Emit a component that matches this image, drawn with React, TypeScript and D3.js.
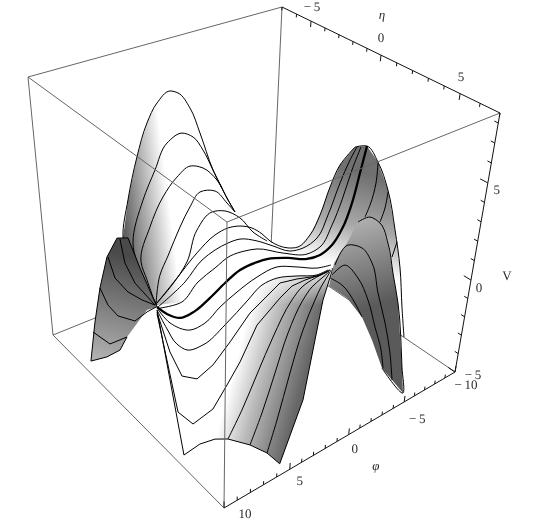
import React from "react";
import * as d3 from "d3";

type P = [number, number];
type Curve = { eta: number; phi: number[]; V: number[] };

const W = 541, H = 525;

// axis ticks
const etaMajor = [-5, 0, 5];
const phiMajor = [10, 5, 0, -5, -10];
const vMajor = [-5, 0, 5];
const etaTicks = d3.range(-7, 8);
const phiTicks = d3.range(-10, 11);
const vTicks = d3.range(-5, 9);

// surface lines: phi and V along lines of fixed eta
const phiA1 = [1.27, 3.52, 3.98, 3.41, 2.52, 1.61, 0.76, -0.31, -0.98, -1.98, -2.83, -3.99, -5.31, -6.14];
const vA1 = [-5.67, -3.14, -1.23, 0.72, 2.81, 4.43, 5.32, 5.74, 5.51, 4.52, 3.0, 0.75, -1.12, -2.11];
const phiA2 = [2.28, 4.15, 3.17, 2.11, 1.08, -0.15, -1.09, -1.95, -2.83, -3.65];
const vA2 = [-4.84, -0.92, 1.17, 2.52, 3.73, 4.0, 3.6, 2.72, 1.46, 0.31];
const phiA3 = [3.46, 4.08, 4.53, 3.68, 2.54, 1.36, 0.29, -0.81, -2.04, -3.04, -3.7];
const vA3 = [-3.86, -2.42, -1.32, 0.38, 1.69, 2.47, 2.81, 2.47, 1.56, 0.27, -0.55];
const phiA4 = [4.34, 3.93, 3.22, 2.17, 1.33, 0.5, -0.78, -1.85, -2.57];
const vA4 = [-3.14, -1.65, -0.79, 0.51, 1.36, 1.95, 1.71, 0.83, 0.19];
const phiA5 = [5.27, 3.91, 2.62, 1.77, 0.53, -0.58, -1.92, -3.12, -4.43];
const vA5 = [-2.34, -1.68, -0.76, 0.73, 1.37, 1.16, 0.48, -0.58, -1.42];
const phiA6 = [6.04, 4.45, 2.77, 1.29, 0.22, -0.82, -1.89, -2.81, -3.56, -5.26, -6.26, -7.39, -8.25, -9.02, -9.81, -11.11];
const vA6 = [-1.51, -0.63, 0.27, 0.82, 0.92, 0.77, 0.41, -0.13, -0.72, -1.55, -1.74, -1.34, -0.41, 0.94, 1.95, 2.64];
const phiA7 = [6.57, 4.47, 3.05, 1.98, 0.91, -0.08, -1.6, -3.05, -4.62, -5.87, -7.21, -8.13, -9.05, -9.81, -10.37];
const vA7 = [-1.19, -0.47, 0.31, 0.55, 0.64, 0.59, 0.12, -0.53, -1.23, -1.38, -1.15, -0.07, 1.44, 2.5, 3.08];
const phiA8 = [7.01, 5.38, 4.08, 2.67, 1.44, 0.21, -0.84, -3.19, -5.42, -6.67, -7.7, -8.47, -9.17, -9.82];
const vA8 = [-0.74, -0.92, -0.22, 0.14, 0.43, 0.37, 0.21, -0.63, -1.28, -1.2, -0.22, 0.95, 2.39, 3.48];
const phiMid = [7.74, 7.02, 6.06, 4.93, 3.67, 2.43, 1.2, -0.21, -1.18, -2.98, -4.71, -5.96, -7.08, -8.02, -8.69, -9.18, -9.59];
const vMid = [-0.14, -0.73, -1.24, -1.23, -0.88, -0.43, -0.07, -0.04, -0.13, -0.56, -1.09, -1.19, -0.92, -0.15, 0.98, 2.47, 3.82];
const phiB1 = [8.68, 7.76, 6.29, 5.18, 3.96, 2.56, 0.93, -0.75, -2.54, -4.36, -5.68];
const vB1 = [0.66, -0.37, -1.21, -1.2, -0.71, -0.31, 0.02, 0.09, -0.4, -0.97, -1.16];
const phiB2 = [9.62, 8.93, 8.23, 7.5, 6.31, 4.65, 2.78, 1.66, 0.44, -1.3, -3.09, -4.05];
const vB2 = [1.4, 0.27, -0.72, -1.26, -1.39, -0.88, -0.11, 0.34, 0.35, -0.01, -0.46, -0.47];
const phiB3 = [10.55, 9.69, 8.84, 7.73, 6.54, 5.29, 3.73, 2.53, 1.35, -0.04, -1.88, -2.83];
const vB3 = [2.13, -0.05, -1.56, -2.08, -1.76, -0.99, 0.04, 0.45, 0.87, 0.68, 0.33, 0.33];
const phiB4 = [11.46, 10.11, 9.0, 7.5, 6.46, 5.52, 4.26, 2.46, 1.53, 0.5, -0.92, -1.6];
const vB4 = [2.87, -2.35, -3.34, -3.1, -2.23, -1.37, 0.13, 0.95, 1.28, 1.28, 1.19, 1.21];
const phiB5 = [14.6, 12.96, 11.8, 10.71, 9.76, 8.12, 6.82, 5.81, 4.21, 3.1, 2.49];
const vB5 = [5.87, -1.32, -1.2, -1.35, -1.69, -2.59, -3.48, -4.41, -1.76, 2.81, 4.18];
const phiF1 = [7.31, 6.29, 5.17, 4.05, 2.64, 1.89, 0.88, -0.06];
const vF1 = [-4.09, -2.98, -1.44, 0.01, 1.42, 1.84, 1.99, 2.02];
const phiF2 = [6.24, 5.4, 4.48, 3.56, 2.49, 1.83, 1.07, 0.54];
const vF2 = [-4.41, -3.09, -1.35, 0.39, 1.69, 2.14, 2.36, 2.5];
const phiF3 = [5.54, 4.86, 3.96, 3.08, 2.26, 1.85, 1.42, 1.14];
const vF3 = [-4.71, -3.28, -1.17, 0.72, 1.94, 2.45, 2.82, 3.08];
const phiL0 = [4.26, 5.12, 5.84, 6.74, 7.33, 8.37, 9.63, 9.12, 8.58, 7.93, 7.12, 6.32, 5.53, 4.26];
const vL0 = [-3.32, -3.25, -3.69, -4.24, -4.77, -4.83, -4.68, -2.74, -1.06, 0.4, 1.16, 0.96, -0.84, -3.32];
const phiL2 = [6.91, 6.63, 5.95, 4.43];
const vL2 = [1.06, -0.26, -1.54, -3.17];
const phiL3 = [7.85, 7.42, 6.5, 5.47, 4.43];
const vL3 = [0.38, -0.85, -1.87, -2.6, -3.17];
const phiL4 = [8.58, 8.06, 7.35, 6.07, 5.12, 4.35];
const vL4 = [-1.06, -2.13, -2.92, -3.57, -3.36, -3.3];
const phiL5 = [9.32, 8.08, 6.74];
const vL5 = [-3.21, -4.22, -4.24];
const phiR0 = [-4.16, -5.16, -6.32, -7.55, -8.7, -9.69, -10.44, -11.11];
const vR0 = [6.31, 6.12, 5.05, 3.3, 0.93, -1.4, -3.79, -5.67];
const phiR4 = [-9.31, -9.33, -8.98, -8.61];
const vR4 = [3.42, 2.35, 1.26, 0.72];
const phiR5 = [-9.08, -8.97, -8.64];
const vR5 = [2.38, 1.56, 0.9];
const phiR6 = [-9.05, -8.73];
const vR6 = [0.21, -0.53];
const phiRb = [-9.71, -4.88, -2.89, -0.21];
const vRb = [-3.19, -1.28, 0.47, 1.49];
const phiW0 = [-0.61, -1.58, -2.36, -3.34, -4.25, -5.16, -5.99, -6.87, -8.18, -8.69, -6.05, -4.69, -3.53, -2.01, -0.33];
const vW0 = [2.32, 3.06, 3.9, 3.89, 3.34, 2.07, 0.32, -1.54, -5.42, -7.0, -4.83, -2.9, -1.3, 0.17, 1.25];
const phiW1 = [-0.71, -1.68, -2.92, -3.93, -4.76, -5.8, -6.7, -7.29];
const vW1 = [2.19, 2.93, 2.44, 1.4, -0.39, -2.31, -4.21, -5.86];
const phiW2 = [-0.51, -1.57, -2.82, -3.92, -4.84, -5.72, -6.16];
const vW2 = [1.74, 1.95, 0.95, -0.51, -2.25, -3.75, -4.86];
const phiW3 = [-0.36, -1.46, -2.77, -3.53];
const vW3 = [1.64, 0.98, -0.32, -1.3];
const phiVe = [-6.53, -8.9, -11.37];
const vVe = [-2.33, -3.71, -4.68];
const phiLb = [1.52];
const vLb = [-3.14];

// box corners on screen: b = V bottom, t = V top; first index phi, second eta
const b00: P = [53, 335], b01: P = [224, 508], b10: P = [271, 247], b11: P = [455, 372];
const t00: P = [28, 77], t01: P = [227, 222], t10: P = [282, 7], t11: P = [500, 113];

const uScale = d3.scaleLinear().domain([10, 5, 0, -5, -10]).range([0, 0.285, 0.54, 0.78, 1]);
const vScale = d3.scaleLinear().domain([-7, -5, 0, 5, 7]).range([0, 0.133, 0.454, 0.817, 1]);
const wScale = d3.scaleLinear().domain([-5, 0, 5, 8.5]).range([0, 0.355, 0.73, 1]);

const mix = (a: P, b: P, t: number): P => [a[0] + (b[0] - a[0]) * t, a[1] + (b[1] - a[1]) * t];
const proj = (phi: number, eta: number, V: number): P => {
  const u = uScale(phi), v = vScale(eta), w = wScale(V);
  const bot = mix(mix(b00, b01, v), mix(b10, b11, v), u);
  const top = mix(mix(t00, t01, v), mix(t10, t11, v), u);
  return mix(bot, top, w);
};
const pts = (c: Curve): P[] => c.phi.map((f, i) => proj(f, c.eta, c.V[i]));
const curve = (eta: number, phi: number[], V: number[]): P[] => pts({ eta, phi, V });

const a1 = curve(-7, phiA1, vA1), a2 = curve(-6, phiA2, vA2), a3 = curve(-5, phiA3, vA3);
const a4 = curve(-4, phiA4, vA4), a5 = curve(-3, phiA5, vA5), a6 = curve(-2, phiA6, vA6);
const a7 = curve(-1.3, phiA7, vA7), a8 = curve(-0.6, phiA8, vA8), mid = curve(0, phiMid, vMid);
const b1 = curve(1, phiB1, vB1), b2 = curve(2, phiB2, vB2), b3 = curve(3, phiB3, vB3);
const b4 = curve(4, phiB4, vB4), b5 = curve(7, phiB5, vB5);
const f1 = curve(5, phiF1, vF1), f2 = curve(5.5, phiF2, vF2), f3 = curve(6, phiF3, vF3);
const l0 = curve(-4, phiL0, vL0), l2 = curve(-4, phiL2, vL2), l3 = curve(-4, phiL3, vL3);
const l4 = curve(-4, phiL4, vL4), l5 = curve(-4, phiL5, vL5);
const r0 = curve(3, phiR0, vR0), r4 = curve(1, phiR4, vR4), r5 = curve(2, phiR5, vR5);
const r6 = curve(3, phiR6, vR6), rb = curve(3, phiRb, vRb);
const w0 = curve(5, phiW0, vW0), w1 = curve(5, phiW1, vW1), w2 = curve(5, phiW2, vW2), w3 = curve(5, phiW3, vW3);
const ve = curve(-3, phiVe, vVe), lb = curve(-3, phiLb, vLb);

const smooth = d3.line<P>().curve(d3.curveCatmullRom.alpha(1));
const sharp = d3.line<P>();
const poly = (...parts: P[][]) => sharp(parts.flat()) + "Z";

const edge = (a: P, b: P, c: string) => <line x1={a[0]} y1={a[1]} x2={b[0]} y2={b[1]} stroke={c} strokeWidth={1} />;
const lab = (s: string, p: P, dx: number, dy: number, it = false) => (
  <text x={p[0] + dx} y={p[1] + dy} textAnchor="middle" fontFamily="'Liberation Serif', serif" fontSize={13} fontStyle={it ? "italic" : "normal"} fill="#2a2a2a" textRendering="geometricPrecision">{s}</text>
);
const minus = (v: number) => (v < 0 ? "\u2212\u2009" + -v : String(v));

export default function App() {
  const phiOff: Record<number, P> = { 10: [21, 10], 5: [10, 16], 0: [6, 18], [-5]: [13, 21], [-10]: [11, 17] };
  const vOff: Record<number, P> = { [-5]: [18, 7], 0: [8, 12], 5: [9, 11] };
  const tail = [...b5].reverse().slice(0, 9);
  return (
    <svg width={W} height={H} style={{ position: "absolute", left: 0, top: 0, background: "#fff" }}>
      <defs>
        <filter id="flat"><feOffset dx={0} dy={0} /></filter>
        <linearGradient id="gr" gradientUnits="userSpaceOnUse" x1={350} y1={170} x2={325} y2={262}><stop offset="0" stopColor="#707070" /><stop offset="0.55" stopColor="#a8a8a8" /><stop offset="1" stopColor="#fff" /></linearGradient>
        <linearGradient id="gl" gradientUnits="userSpaceOnUse" x1={125} y1={230} x2={172} y2={224}><stop offset="0" stopColor="#606060" /><stop offset="0.5" stopColor="#b0b0b0" /><stop offset="1" stopColor="#fff" /></linearGradient>
        <linearGradient id="gf" gradientUnits="userSpaceOnUse" x1={217} y1={433} x2={285} y2={451}><stop offset="0" stopColor="#fff" /><stop offset="0.4" stopColor="#bbb" /><stop offset="1" stopColor="#666" /></linearGradient>
        <linearGradient id="gw" gradientUnits="userSpaceOnUse" x1={0} y1={272} x2={0} y2={305}><stop offset="0" stopColor="#fff" stopOpacity={0.8} /><stop offset="1" stopColor="#fff" stopOpacity={0} /></linearGradient>
        <linearGradient id="gd" gradientUnits="userSpaceOnUse" x1={125} y1={255} x2={100} y2={358}><stop offset="0" stopColor="#4a4a4a" /><stop offset="1" stopColor="#b0b0b0" /></linearGradient>
        <linearGradient id="gb" gradientUnits="userSpaceOnUse" x1={350} y1={222} x2={378} y2={305}><stop offset="0" stopColor="#b0b0b0" /><stop offset="1" stopColor="#5a5a5a" /></linearGradient>
      </defs>
      {/* back of the box */}
      {edge(b00, b10, "#666")}{edge(b10, b11, "#666")}{edge(t10, b10, "#666")}
      {edge(t00, t10, "#666")}{edge(t00, b00, "#666")}{edge(b00, b01, "#666")}
      {/* surface fills, back to front */}
      <path d={poly(a6.slice(9), r0, rb)} fill="url(#gr)" />
      <path d={poly(a1, a5.slice(7), ve, [...b5].reverse())} fill="#fff" />
      <path d={poly(a1, lb)} fill="url(#gl)" />
      <path d={poly(b2.slice(5), tail)} fill="url(#gf)" />
      <path d={poly(b2.slice(5), tail)} fill="url(#gw)" />
      {[a1, a2, a3, a4, a5, a6, a7, a8, b1, b2, f1, f2, f3, r4, r5, r6, r0].map((c, i) => <path key={i} d={smooth(c)!} fill="none" stroke="#000" />)}
      {[b3, b4, b5].map((c, i) => <path key={i} d={sharp(c)!} fill="none" stroke="#000" />)}
      <path d={smooth(mid)!} fill="none" stroke="#000" strokeWidth={2.3} />
      <path d={poly(l0)} fill="url(#gd)" />
      {[l0.slice(3), l2, l3, l4, l5].map((c, i) => <path key={i} d={sharp(c)!} fill="none" stroke="#000" />)}
      <path d={poly(w0)} fill="url(#gb)" />
      {[w0.slice(2, 11), w1, w2, w3].map((c, i) => <path key={i} d={smooth(c)!} fill="none" stroke="#000" />)}
      {/* front of the box and axes */}
      {edge(t00, t01, "#666")}{edge(t01, t11, "#666")}{edge(t01, b01, "#666")}
      {edge(t10, t11, "#111")}{edge(b01, b11, "#111")}{edge(b11, t11, "#111")}
      {etaTicks.map((e) => <g key={e}>{edge(proj(-10, e, 8.5), proj(-10, e, 8.5 - (e % 5 === 0 ? 0.32 : 0.18)), "#111")}</g>)}
      {phiTicks.map((e) => <g key={e}>{edge(proj(e, 7, -5), proj(e, 7, -5 + (e % 5 === 0 ? 0.32 : 0.18)), "#111")}</g>)}
      {vTicks.map((e) => <g key={e}>{edge(proj(-10, 7, e), proj(-10, 7 - (e % 5 === 0 ? 0.4 : 0.2), e), "#111")}</g>)}
      <g filter="url(#flat)">
        {etaMajor.map((e) => <g key={e}>{lab(minus(e), proj(-10, e, 8.5), e === 0 ? 0 : 1, e < 0 ? -10.5 : -13)}</g>)}
        {lab("\u03b7", proj(-10, 0, 8.5), 1, -36, true)}
        {phiMajor.map((e) => <g key={e}>{lab(minus(e), proj(e, 7, -5), phiOff[e][0], phiOff[e][1])}</g>)}
        {lab("\u03c6", proj(0, 7, -5), 27, 35, true)}
        {vMajor.map((e) => <g key={e}>{lab(minus(e), proj(-10, 7, e), vOff[e][0], vOff[e][1])}</g>)}
        {lab("V", proj(-10, 7, 0), 36, 0)}
      </g>
    </svg>
  );
}
